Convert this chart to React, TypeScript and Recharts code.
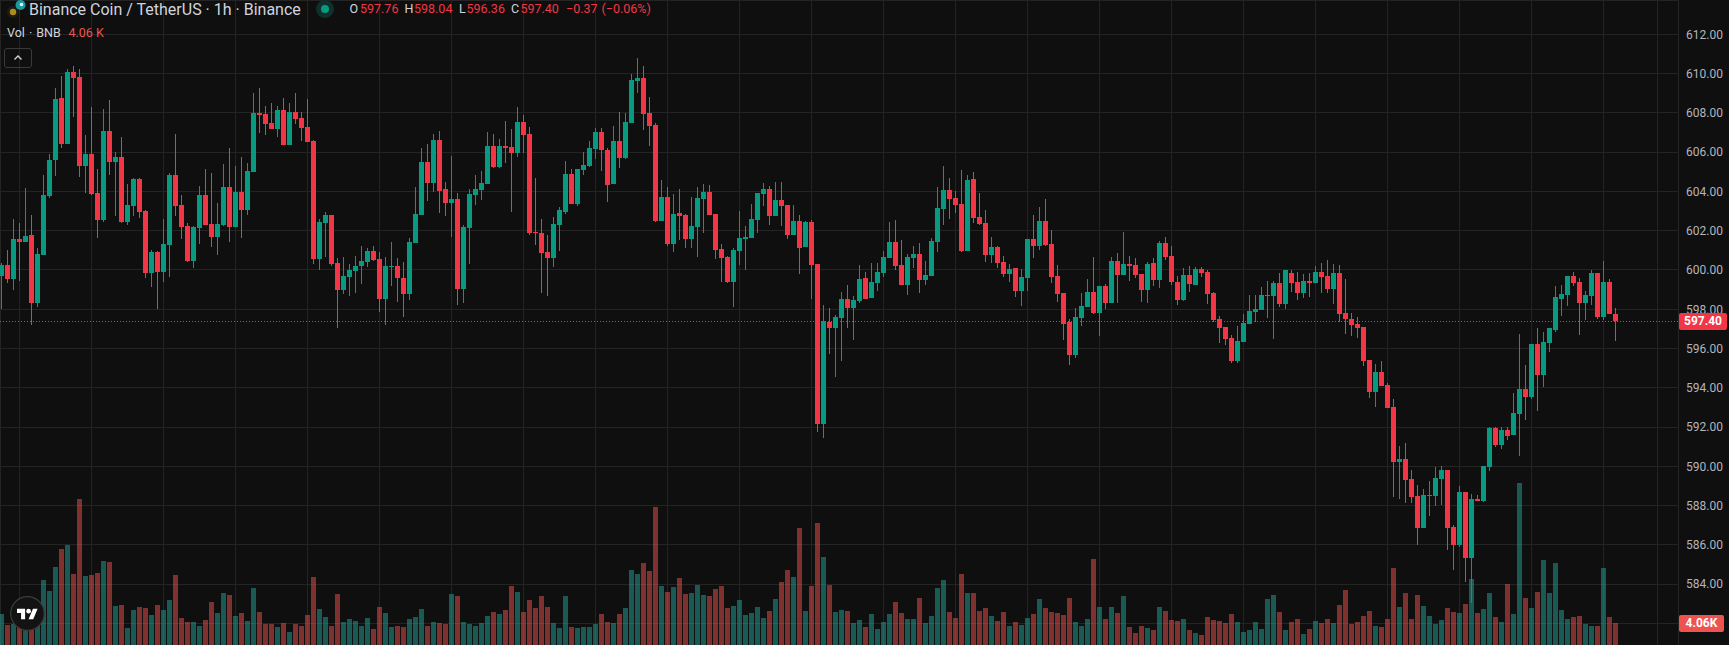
import React from "react";
import { ComposedChart, Bar, XAxis, YAxis, CartesianGrid, ReferenceLine } from "recharts";

const opens = [
  599.69,600.25,599.54,601.58,601.43,601.78,598.32,600.76,603.77,605.60,
  608.76,606.42,610.09,609.83,605.29,605.91,603.92,602.55,607.08,605.50,
  605.75,602.44,603.26,604.63,603.00,599.85,600.92,599.90,601.27,604.84,
  603.31,602.24,600.46,602.14,603.82,602.34,601.68,602.29,604.23,602.19,
  603.97,603.06,604.99,608.00,607.95,607.49,607.18,608.15,606.37,608.05,
  607.74,607.28,606.57,600.56,602.39,602.80,600.35,598.98,599.64,599.95,
  600.20,600.41,600.97,600.56,598.52,600.15,600.20,599.59,598.78,601.38,
  602.80,605.50,604.43,606.62,604.13,603.41,603.62,599.03,602.14,603.82,
  604.08,604.38,606.32,605.25,606.32,606.27,605.96,607.54,606.93,601.94,
  601.89,600.92,600.61,602.29,602.96,604.89,603.36,605.09,605.30,606.17,
  607.03,606.12,604.38,606.57,605.71,607.49,609.63,609.78,608.00,607.39,
  602.50,603.72,601.33,602.90,602.80,601.58,602.19,603.62,603.97,602.85,
  601.07,600.66,599.39,600.97,601.58,601.63,602.55,603.87,604.13,602.75,
  603.57,603.31,601.78,602.50,601.17,602.45,600.31,592.16,597.35,597.05,
  597.56,598.52,598.07,598.42,599.59,598.57,599.34,599.84,600.61,601.43,
  600.25,599.23,600.61,600.81,599.49,599.69,601.43,603.10,604.07,603.66,
  603.36,600.96,604.63,602.70,602.39,600.76,601.17,600.40,599.79,600.10,
  598.93,599.59,601.58,601.22,602.49,601.32,599.69,598.83,597.35,595.67,
  597.55,598.11,598.88,597.81,599.18,598.32,600.46,599.74,600.30,600.25,
  599.79,598.98,600.35,599.49,601.37,600.71,599.39,598.47,599.74,599.23,
  600.05,599.89,598.83,597.50,597.09,596.53,595.36,596.33,597.25,597.86,
  597.96,598.67,598.67,599.34,598.27,599.85,599.39,598.83,599.44,599.34,
  599.90,599.69,599.03,599.85,597.81,597.51,597.25,597.10,595.42,593.79,
  594.81,594.14,593.02,590.22,590.37,589.35,588.49,586.86,588.49,588.49,
  589.35,589.81,586.91,585.99,588.69,585.33,588.33,588.23,589.97,591.95,
  591.09,591.85,591.60,592.67,593.94,593.53,596.23,594.65,596.28,596.95,
  598.52,598.73,599.69,599.39,598.32,598.68,599.85,597.61,599.39,597.76,
];

const closes = [
  600.25,599.54,601.58,601.43,601.73,598.32,600.81,603.82,605.60,608.71,
  606.42,610.09,609.78,605.29,605.91,603.87,602.55,607.08,605.50,605.75,
  602.44,603.31,604.63,602.95,599.85,600.92,599.90,601.32,604.84,603.26,
  602.19,600.46,602.19,603.82,602.29,601.68,602.34,604.23,602.19,603.97,
  603.06,605.04,608.00,607.90,607.44,607.18,608.15,606.37,608.05,607.69,
  607.23,606.52,600.56,602.44,602.80,600.30,598.98,599.69,600.00,600.20,
  600.46,600.97,600.51,598.52,600.20,600.20,599.59,598.78,601.43,602.85,
  605.50,604.43,606.62,604.03,603.41,603.62,599.03,602.19,603.87,604.13,
  604.43,606.32,605.25,606.32,606.22,605.96,607.54,606.88,601.89,601.89,
  600.87,600.61,602.34,603.06,604.89,603.36,605.14,605.35,606.22,607.03,
  606.12,604.33,606.57,605.71,607.54,609.68,609.78,607.95,607.34,602.50,
  603.72,601.33,602.85,602.75,601.58,602.24,603.67,603.97,602.80,601.02,
  600.61,599.39,601.02,601.63,601.68,602.60,603.92,604.13,602.75,603.57,
  603.26,601.78,602.50,601.12,602.45,600.26,592.16,597.40,597.05,597.61,
  598.52,598.07,598.47,599.54,598.52,599.39,599.89,600.66,601.43,600.20,
  599.23,600.66,600.81,599.49,599.74,601.47,603.16,604.07,603.61,603.31,
  600.96,604.58,602.65,602.34,600.76,601.17,600.35,599.79,600.05,598.93,
  599.64,601.58,601.22,602.49,601.27,599.64,598.78,597.25,595.67,597.60,
  598.16,598.88,597.81,599.18,598.32,600.46,599.74,600.30,600.20,599.74,
  598.98,600.30,599.49,601.37,600.66,599.39,598.47,599.74,599.28,600.05,
  599.84,598.78,597.45,597.04,596.48,595.36,596.38,597.30,597.91,598.01,
  598.72,598.72,599.34,598.27,600.00,599.34,598.83,599.44,599.34,599.90,
  599.64,599.03,599.85,597.76,597.51,597.20,597.05,595.37,593.79,594.81,
  594.09,592.97,590.22,590.37,589.30,588.44,586.86,588.54,588.54,589.41,
  589.81,586.86,585.99,588.69,585.33,588.33,588.23,590.02,591.95,591.09,
  591.85,591.55,592.72,593.94,593.53,596.23,594.65,596.33,597.05,598.63,
  598.78,599.69,599.34,598.32,598.73,599.85,597.61,599.39,597.76,597.40,
];

const highs = [
  600.34,601.01,602.60,602.39,604.18,602.80,601.12,604.82,605.91,609.27,
  609.88,610.24,610.39,610.24,606.88,608.30,605.15,608.20,608.66,606.01,
  606.77,604.38,604.69,604.70,603.06,601.01,600.97,602.60,604.94,606.93,
  603.82,602.39,602.24,604.28,605.15,604.94,603.41,605.40,606.21,605.29,
  605.75,605.45,609.02,609.27,608.35,608.51,608.35,608.76,608.51,609.02,
  608.05,608.71,606.62,602.60,602.95,602.80,600.61,600.66,600.30,600.71,
  601.22,601.12,601.22,600.92,600.66,601.43,600.61,600.41,601.63,604.23,
  606.21,606.42,606.93,607.08,604.48,605.81,603.92,602.29,604.13,604.84,
  605.05,607.03,606.93,606.67,607.59,607.18,608.31,607.90,607.28,604.69,
  602.60,601.78,602.70,603.21,605.55,605.14,605.14,606.01,606.57,607.23,
  607.23,606.22,607.34,608.05,608.00,609.99,610.80,610.39,608.81,607.49,
  604.58,604.23,603.87,604.13,602.85,603.72,604.23,604.38,604.33,602.85,
  601.33,600.72,601.12,603.01,602.24,603.36,603.92,604.43,604.28,604.48,
  604.48,603.31,603.31,602.80,602.50,602.55,600.31,598.22,598.07,597.71,
  598.88,599.24,598.67,600.25,599.89,600.35,600.35,600.96,602.44,602.54,
  601.53,600.81,601.22,601.37,600.46,601.63,604.23,605.30,604.68,604.02,
  605.09,604.84,604.99,603.92,603.05,601.68,601.22,600.71,600.30,600.10,
  600.05,601.58,602.80,603.21,603.61,602.03,600.25,598.83,597.50,598.06,
  598.83,599.54,600.66,599.18,599.28,600.66,600.86,601.93,600.71,600.61,
  599.79,600.40,600.61,601.47,601.68,601.22,599.69,600.10,600.20,600.15,
  600.15,600.00,598.88,597.65,597.09,596.69,597.14,597.76,598.72,598.72,
  599.13,599.44,599.44,599.84,600.00,600.00,599.90,599.80,599.85,600.21,
  600.36,600.51,600.31,600.26,599.54,597.81,597.61,597.10,595.42,595.21,
  595.37,594.25,593.43,591.04,591.19,589.81,589.05,588.85,589.25,589.97,
  590.02,589.81,587.01,589.00,588.69,588.59,588.54,590.02,592.00,592.00,
  592.00,592.00,593.74,596.74,595.16,596.23,597.05,596.84,597.05,599.19,
  599.24,599.69,599.90,599.59,598.93,600.00,599.85,600.46,599.54,598.04,
];

const lows = [
  598.01,599.35,598.98,599.44,601.43,597.20,598.13,600.76,603.67,604.79,
  606.21,606.42,607.79,604.74,603.92,603.82,601.63,602.44,604.84,602.75,
  602.39,602.29,602.75,602.65,599.59,599.13,598.01,599.39,599.64,602.75,
  601.58,600.41,600.10,601.32,602.29,601.17,600.76,602.24,601.43,602.19,
  601.63,602.80,604.99,606.98,606.88,607.18,606.77,606.37,606.37,607.44,
  606.57,606.52,600.30,600.00,600.66,600.20,597.04,598.78,598.67,598.83,
  599.29,600.15,600.46,597.86,597.20,599.18,598.37,597.60,598.47,601.38,
  602.80,603.51,603.97,602.90,602.75,601.68,598.22,598.32,600.31,603.31,
  603.57,604.38,605.20,605.20,605.45,602.96,605.76,605.96,601.78,601.27,
  598.83,598.67,600.15,600.97,602.85,603.36,603.26,604.84,605.25,605.65,
  605.05,603.47,604.38,605.20,605.65,607.49,609.02,607.13,606.32,602.45,
  602.50,601.23,600.92,601.53,601.12,601.12,600.66,601.89,602.80,600.56,
  599.39,599.34,598.12,600.26,600.00,601.63,601.89,603.26,602.29,602.75,
  602.24,601.58,601.78,599.80,601.17,598.52,591.75,591.44,595.72,594.55,
  595.37,597.05,596.44,598.32,598.52,598.57,598.93,599.64,600.61,600.00,
  599.23,598.72,600.10,598.83,599.23,599.69,600.91,602.29,602.59,602.90,
  600.91,600.96,602.39,602.29,600.40,600.35,600.10,599.64,599.39,598.62,
  598.16,598.93,600.61,601.02,601.22,599.34,598.37,596.43,595.16,595.51,
  597.14,598.11,597.76,596.63,598.01,598.32,598.32,599.74,599.44,599.59,
  598.37,598.32,599.18,599.08,600.51,599.23,598.21,598.42,598.88,599.23,
  599.64,598.27,597.35,596.28,596.18,595.26,595.26,596.33,597.25,597.35,
  597.96,597.55,596.48,598.11,598.01,598.88,598.47,598.58,598.62,599.34,
  598.83,598.83,598.27,597.35,596.74,596.64,596.54,595.11,593.48,593.02,
  594.09,592.97,588.44,588.33,588.13,588.13,585.99,586.86,587.47,587.98,
  588.03,585.74,584.72,585.89,584.11,583.02,588.23,588.18,589.76,590.98,
  590.88,591.34,591.60,590.53,592.36,593.43,592.82,594.04,595.82,596.84,
  597.66,598.17,599.19,596.69,597.45,598.22,597.51,597.45,597.76,596.36,
];

const volumes = [
  5.72,3.69,3.87,3.32,2.77,2.77,4.06,11.99,9.96,14.39,
  17.71,18.45,13.10,26.94,12.73,12.92,13.28,15.50,15.31,7.20,
  7.38,3.14,6.46,7.01,6.83,5.54,7.38,6.46,8.30,12.92,
  4.98,4.24,4.24,3.51,4.61,7.93,5.90,9.59,9.23,5.35,
  5.90,4.43,10.52,6.09,3.87,3.87,3.32,4.06,2.40,3.87,
  3.51,5.54,12.55,6.64,5.17,3.51,9.41,4.24,4.80,4.43,
  3.51,4.98,2.95,7.01,5.90,3.32,3.51,3.32,4.80,5.17,
  6.64,3.51,4.24,4.06,3.87,9.41,9.04,4.24,3.87,3.51,
  4.06,5.35,6.09,5.72,6.46,10.89,9.78,6.09,8.30,6.83,
  9.04,7.01,4.06,3.14,9.04,3.32,3.14,3.32,3.32,3.87,
  5.72,4.24,4.06,5.72,6.83,13.84,13.10,15.13,13.65,25.46,
  10.89,9.78,10.70,12.36,9.41,9.59,11.07,9.23,9.04,10.33,
  10.89,6.83,7.20,8.30,5.54,5.90,7.01,4.98,6.27,8.49,
  11.62,13.84,12.55,21.59,6.27,10.89,22.51,16.24,11.07,6.09,
  6.46,6.27,4.06,4.61,3.32,5.72,2.95,4.24,5.72,7.93,
  5.90,4.80,4.80,8.67,4.06,5.35,10.52,11.99,6.09,4.98,
  13.10,9.59,9.59,6.27,6.83,5.35,4.43,6.09,3.51,4.24,
  3.69,4.98,5.72,8.49,6.83,6.09,5.90,5.54,8.67,4.24,
  3.51,4.80,15.87,7.01,4.80,7.01,5.90,9.04,3.32,2.21,
  3.51,3.14,2.77,7.01,6.27,4.61,4.43,4.80,2.77,2.21,
  1.85,5.17,4.61,4.43,4.06,5.72,4.24,2.40,2.77,4.24,
  2.95,8.49,9.23,6.09,2.77,4.24,4.80,2.03,2.95,4.43,
  4.06,4.80,4.06,7.38,10.15,3.87,4.24,5.35,6.27,3.51,
  3.32,4.80,14.21,7.01,9.59,4.80,9.23,7.20,5.35,3.87,
  4.61,6.83,6.09,5.90,7.56,12.18,5.90,6.64,9.59,5.17,
  4.24,11.25,5.72,29.89,8.67,6.83,9.78,15.68,9.59,15.13,
  6.46,4.80,5.17,5.35,3.87,3.51,3.51,14.21,5.17,4.06,
];

const priceTicks = [582, 584, 586, 588, 590, 592, 594, 596, 598, 600, 602, 604, 606, 608, 610, 612];
const hiddenPriceLabels = [582];
const timeTicks = [3, 15, 27, 39, 51, 63, 75, 87, 99, 111, 123, 135, 147, 159, 171, 183, 195, 207, 219, 231, 243, 255, 267, 276];
const lastPrice = 597.4;
const legendPrices = [
  { k: "O", v: "597.76", x: 349.5, vx: 360 },
  { k: "H", v: "598.04", x: 404.5, vx: 414 },
  { k: "L", v: "596.36", x: 459, vx: 466.5 },
  { k: "C", v: "597.40", x: 511, vx: 520.4 },
];

const UP = "#089981";
const DOWN = "#f23645";
const VOL_UP = "rgba(38,166,154,0.5)";
const VOL_DOWN = "rgba(239,83,80,0.5)";
const BG = "#0f0f0f";
const W = 1729;
const H = 645;

const data = opens.map((o, i) => ({
  idx: i,
  open: o,
  close: closes[i],
  high: highs[i],
  low: lows[i],
  volume: volumes[i],
  range: [lows[i], highs[i]],
}));

const Candle = (props: any) => {
  const { x, y, height, payload } = props;
  const { open, close, high, low } = payload;
  const color = close >= open ? UP : DOWN;
  const perUnit = height / (high - low || 1);
  const top = Math.round(y + (high - Math.max(open, close)) * perUnit);
  const bottom = Math.round(y + (high - Math.min(open, close)) * perUnit);
  const bx = Math.round(x);
  return (
    <g shapeRendering="crispEdges">
      <rect x={bx + 2} y={Math.round(y)} width={1} height={Math.max(1, Math.round(height))} fill={color} />
      <rect x={bx} y={top} width={5} height={Math.max(1, bottom - top)} fill={color} />
    </g>
  );
};

const VolumeBar = (props: any) => {
  const { x, y, height, payload } = props;
  const color = payload.close >= payload.open ? VOL_UP : VOL_DOWN;
  return <rect x={Math.round(x)} y={y} width={5} height={height} fill={color} shapeRendering="crispEdges" />;
};

const textFont = "Roboto, sans-serif";
const abs = (o: any) => ({ position: "absolute", whiteSpace: "nowrap", lineHeight: 1, ...o }) as React.CSSProperties;

export default function App() {
  const xDomain = [-0.25, -0.25 + (W - 51) / 6];
  return (
    <div style={{ position: "fixed", left: 0, top: 0, width: W, height: H, background: BG, overflow: "hidden", fontFamily: textFont }}>
      <ComposedChart width={W} height={H} data={data} margin={{ top: 0, right: 0, bottom: 0, left: 0 }} barCategoryGap={0}>
        <CartesianGrid stroke="#242424" strokeWidth={1} shapeRendering="crispEdges" />
        <XAxis dataKey="idx" type="number" domain={xDomain} ticks={timeTicks} hide allowDataOverflow />
        <XAxis xAxisId="v" dataKey="idx" type="number" domain={xDomain} hide allowDataOverflow />
        <YAxis
          orientation="right"
          width={51}
          domain={[580.897, 613.754]}
          ticks={priceTicks}
          interval={0}
          allowDataOverflow
          axisLine={false}
          tickLine={false}
          tickSize={0}
          tickMargin={8}
          tick={{ fill: "#b2b5be", fontSize: 12, fontFamily: textFont }}
          tickFormatter={(v: number) => (hiddenPriceLabels.includes(v) ? "" : v.toFixed(2))}
        />
        <YAxis yAxisId="v" hide domain={[0, 119]} allowDataOverflow />
        <ReferenceLine y={lastPrice} stroke={DOWN} strokeWidth={1} strokeDasharray="1 2" shapeRendering="crispEdges" />
        <Bar xAxisId="v" yAxisId="v" dataKey="volume" barSize={5} shape={VolumeBar} isAnimationActive={false} />
        <Bar dataKey="range" barSize={5} shape={Candle} isAnimationActive={false} />
      </ComposedChart>

      {/* legend row */}
      <svg style={abs({ left: 5, top: 0 })} width={22} height={18}>
        <circle cx={8} cy={12} r={6} fill="#1c1c14" />
        <circle cx={8} cy={12} r={3.2} fill="#b08a1e" />
        <circle cx={15.5} cy={5} r={5} fill="#1a9aa0" />
        <circle cx={16.5} cy={4.5} r={1.8} fill="#d9f3f3" />
      </svg>
      <div style={abs({ left: 29, top: 2, fontSize: 16, color: "#d1d4dc" })}>Binance Coin / TetherUS · 1h · Binance</div>
      <svg style={abs({ left: 316, top: 0 })} width={18} height={18}>
        <circle cx={9} cy={9} r={9} fill="#10302b" />
        <circle cx={9} cy={9} r={4} fill={UP} />
      </svg>
      {legendPrices.map((p) => (
        <React.Fragment key={p.k}>
          <div style={abs({ left: p.x, top: 3, fontSize: 12.5, color: "#d1d4dc" })}>{p.k}</div>
          <div style={abs({ left: p.vx, top: 3, fontSize: 12.5, color: DOWN })}>{p.v}</div>
        </React.Fragment>
      ))}
      <div style={abs({ left: 566, top: 3, fontSize: 12.5, color: DOWN })}>−0.37</div>
      <div style={abs({ left: 601.5, top: 3, fontSize: 12.5, color: DOWN })}>(−0.06%)</div>

      <div style={abs({ left: 7, top: 27, fontSize: 12.5, wordSpacing: 1, color: "#d1d4dc" })}>Vol · BNB</div>
      <div style={abs({ left: 68.5, top: 27, fontSize: 12.5, color: "#ef5350" })}>4.06 K</div>

      <div style={abs({ left: 4, top: 48, width: 28, height: 20, border: "1px solid #3a3a3a", borderRadius: 3, boxSizing: "border-box" })}>
        <svg width={26} height={18} style={{ display: "block" }}>
          <path d="M9.5 10.5 L13 7 L16.5 10.5" fill="none" stroke="#d1d4dc" strokeWidth={1.4} />
        </svg>
      </div>

      {/* price badges */}
      <div style={abs({ left: 1679, top: 313, width: 48, height: 17, background: DOWN, borderRadius: 2, color: "#fff", fontSize: 12, fontWeight: 700, lineHeight: "17px", textAlign: "center" })}>597.40</div>
      <div style={abs({ left: 1679, top: 615, width: 45, height: 17, background: "#ef5350", borderRadius: 2, color: "#fff", fontSize: 12, fontWeight: 700, lineHeight: "17px", textAlign: "center" })}>4.06K</div>

      {/* attribution logo */}
      <svg style={abs({ left: 10, top: 596 })} width={35} height={35}>
        <circle cx={17.5} cy={17.5} r={16.8} fill="#131313" stroke="#3c3c3c" strokeWidth={1.2} />
        <g transform="translate(7 10.5) scale(0.58)" fill="#ffffff">
          <path d="M14 22H7V11H0V4h14v18zM28 22h-8l7.5-18h8L28 22z" />
          <circle cx="20" cy="8" r="4" />
        </g>
      </svg>
    </div>
  );
}
